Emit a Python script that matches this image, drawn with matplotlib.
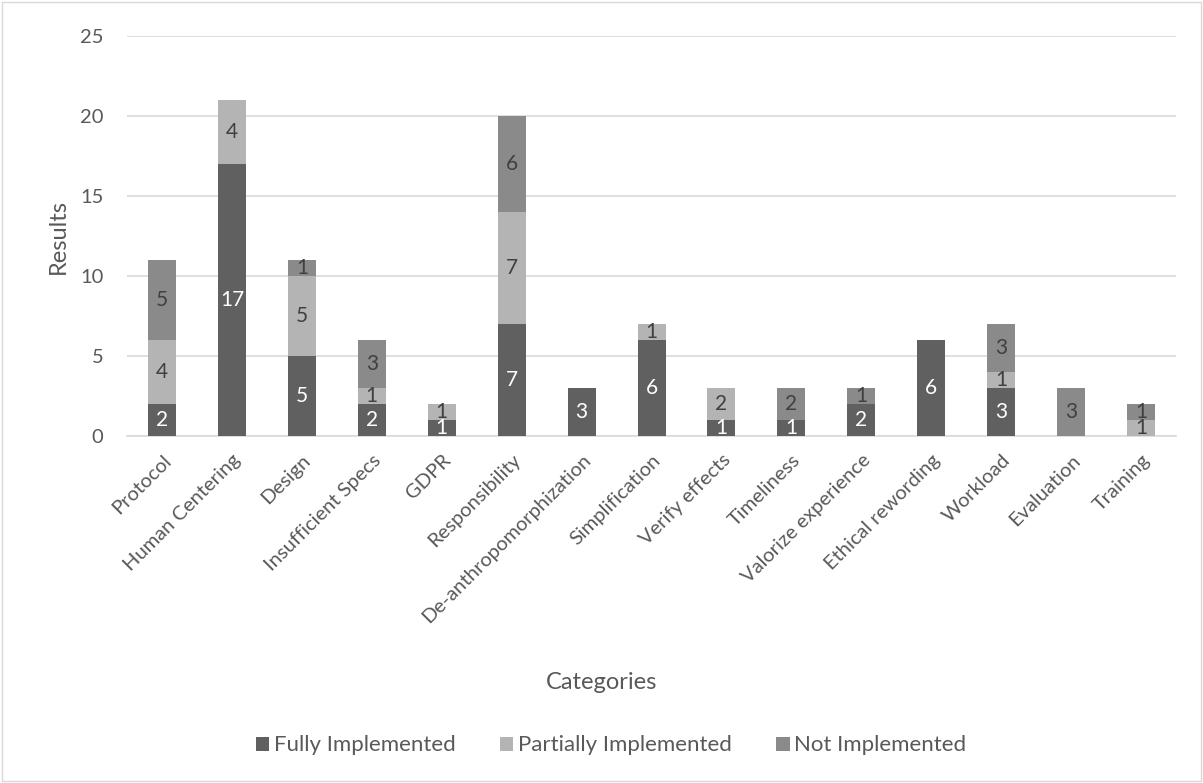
"""
Stacked bar chart of implementation status per category.
"""

import matplotlib.pyplot as plt
import numpy as np

categories = ['Protocol', 'Human Centering', 'Design', 'Insufficient Specs', 'GDPR',
              'Responsibility', 'De-anthropomorphization', 'Simplification',
              'Verify effects', 'Timeliness', 'Valorize experience',
              'Ethical rewording', 'Workload', 'Evaluation', 'Training']
fully = [2, 17, 5, 2, 1, 7, 3, 6, 1, 1, 2, 6, 3, 0, 0]
partially = [4, 4, 5, 1, 1, 7, 0, 1, 2, 0, 0, 0, 1, 0, 1]
not_impl = [5, 0, 1, 3, 0, 6, 0, 0, 0, 2, 1, 0, 3, 3, 1]

series_names = ['Fully Implemented', 'Partially Implemented', 'Not Implemented']
colors = ['#606060', '#b4b4b4', '#8a8a8a']
label_colors = ['white', '#404040', '#404040']

plt.rcParams['font.family'] = ['Lato', 'DejaVu Sans']

fig = plt.figure(figsize=(12.03, 7.83), dpi=100)
ax = fig.add_axes([0.1056, 0.443, 0.872, 0.511])

x = np.arange(len(categories))
bottom = np.zeros(len(categories))
for vals, name, col, lcol in zip([fully, partially, not_impl], series_names, colors, label_colors):
    vals = np.array(vals)
    bars = ax.bar(x, vals, 0.4, bottom=bottom, color=col, label=name, zorder=3)
    for b, v, bt in zip(bars, vals, bottom):
        if v > 0:
            ax.text(b.get_x() + b.get_width() / 2, bt + v / 2, str(v),
                    ha='center', va='center', color=lcol, fontsize=15, zorder=4)
    bottom += vals

ax.set_xlim(-0.5, len(categories) - 0.5)
ax.set_ylim(0, 25)
ax.set_yticks(range(0, 26, 5))
ax.yaxis.grid(True, color='#d9d9d9', linewidth=1.2, zorder=0)
for s in ['top', 'right', 'left']:
    ax.spines[s].set_visible(False)
ax.spines['bottom'].set_color('#d9d9d9')
ax.spines['bottom'].set_linewidth(1.2)
ax.tick_params(axis='both', length=0, labelsize=14.5, colors='#595959')
ax.tick_params(axis='y', pad=17)
ax.tick_params(axis='x', pad=11)
ax.set_xticks(x)
ax.set_xticklabels(categories, rotation=45, ha='right', rotation_mode='anchor')

ax.set_ylabel('Results', fontsize=17, color='#595959', labelpad=8)
fig.text(0.5, 0.128, 'Categories', ha='center', va='center', fontsize=17, color='#595959')

leg = fig.legend(loc='center', bbox_to_anchor=(0.508, 0.048), ncol=3, frameon=False,
                 fontsize=16, handlelength=0.6, handleheight=0.6, columnspacing=2.0,
                 handletextpad=0.2, labelcolor='#595959')

fig.patches.append(plt.Rectangle((0.002, 0.002), 0.996, 0.996, transform=fig.transFigure,
                                 fill=False, edgecolor='#d9d9d9', linewidth=1))

fig.savefig('out.png', dpi=100)
